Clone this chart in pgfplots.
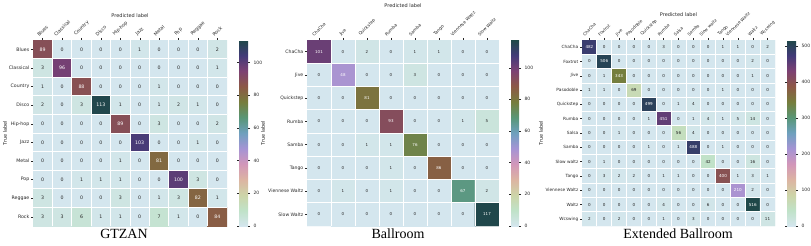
\documentclass[border=0pt]{standalone}
\usepackage{pgfplots}
\pgfplotsset{compat=1.18}
\usepackage{pgfplotstable}
\usepackage{graphicx}
\usepackage{fontspec}
\setmainfont{Liberation Serif}
\newfontfamily\dv{DejaVu Sans}
\newcommand\fs[1]{\dv\fontsize{#1}{#1}\selectfont}
\newcommand\rb[1]{\rotatebox{45}{#1}}

\pgfplotsset{/pgf/number format/assume math mode=true}
\pgfplotsset{colormap={chx}{rgb255=(212,230,238) rgb255=(192,226,200) rgb255=(205,212,168) rgb255=(220,180,162) rgb255=(210,150,185) rgb255=(165,148,212) rgb255=(110,160,190) rgb255=(88,150,118) rgb255=(118,125,60) rgb255=(140,88,70) rgb255=(125,65,115) rgb255=(65,58,120) rgb255=(30,72,72)}}

\pgfplotstableread[row sep=\\]{
x y z\\
0 0 89\\ 1 0 0\\ 2 0 0\\ 3 0 0\\ 4 0 0\\ 5 0 1\\ 6 0 0\\ 7 0 0\\ 8 0 0\\ 9 0 2\\
0 1 3\\ 1 1 96\\ 2 1 0\\ 3 1 0\\ 4 1 0\\ 5 1 0\\ 6 1 0\\ 7 1 0\\ 8 1 0\\ 9 1 1\\
0 2 1\\ 1 2 0\\ 2 2 88\\ 3 2 0\\ 4 2 0\\ 5 2 0\\ 6 2 1\\ 7 2 0\\ 8 2 0\\ 9 2 0\\
0 3 2\\ 1 3 0\\ 2 3 3\\ 3 3 113\\ 4 3 1\\ 5 3 0\\ 6 3 1\\ 7 3 2\\ 8 3 1\\ 9 3 0\\
0 4 0\\ 1 4 0\\ 2 4 0\\ 3 4 0\\ 4 4 89\\ 5 4 0\\ 6 4 3\\ 7 4 0\\ 8 4 0\\ 9 4 2\\
0 5 0\\ 1 5 0\\ 2 5 0\\ 3 5 0\\ 4 5 0\\ 5 5 103\\ 6 5 0\\ 7 5 0\\ 8 5 1\\ 9 5 0\\
0 6 0\\ 1 6 0\\ 2 6 0\\ 3 6 0\\ 4 6 1\\ 5 6 0\\ 6 6 81\\ 7 6 0\\ 8 6 0\\ 9 6 0\\
0 7 0\\ 1 7 0\\ 2 7 1\\ 3 7 1\\ 4 7 1\\ 5 7 0\\ 6 7 0\\ 7 7 100\\ 8 7 3\\ 9 7 0\\
0 8 3\\ 1 8 0\\ 2 8 0\\ 3 8 0\\ 4 8 3\\ 5 8 0\\ 6 8 1\\ 7 8 3\\ 8 8 82\\ 9 8 1\\
0 9 3\\ 1 9 3\\ 2 9 6\\ 3 9 1\\ 4 9 1\\ 5 9 0\\ 6 9 7\\ 7 9 1\\ 8 9 0\\ 9 9 84\\
}\tgtzan

\pgfplotstableread[row sep=\\]{
x y z\\
0 0 101\\ 1 0 0\\ 2 0 2\\ 3 0 0\\ 4 0 1\\ 5 0 1\\ 6 0 0\\ 7 0 0\\
0 1 0\\ 1 1 48\\ 2 1 0\\ 3 1 0\\ 4 1 3\\ 5 1 0\\ 6 1 0\\ 7 1 0\\
0 2 0\\ 1 2 0\\ 2 2 81\\ 3 2 0\\ 4 2 0\\ 5 2 0\\ 6 2 0\\ 7 2 0\\
0 3 0\\ 1 3 0\\ 2 3 0\\ 3 3 93\\ 4 3 0\\ 5 3 0\\ 6 3 1\\ 7 3 5\\
0 4 0\\ 1 4 0\\ 2 4 1\\ 3 4 1\\ 4 4 76\\ 5 4 0\\ 6 4 0\\ 7 4 0\\
0 5 0\\ 1 5 0\\ 2 5 0\\ 3 5 1\\ 4 5 0\\ 5 5 86\\ 6 5 0\\ 7 5 0\\
0 6 0\\ 1 6 1\\ 2 6 0\\ 3 6 1\\ 4 6 0\\ 5 6 0\\ 6 6 67\\ 7 6 2\\
0 7 0\\ 1 7 0\\ 2 7 0\\ 3 7 0\\ 4 7 0\\ 5 7 0\\ 6 7 0\\ 7 7 117\\
}\tball

\pgfplotstableread[row sep=\\]{
x y z\\
0 0 482\\ 1 0 0\\ 2 0 0\\ 3 0 0\\ 4 0 0\\ 5 0 3\\ 6 0 0\\ 7 0 0\\ 8 0 0\\ 9 0 1\\ 10 0 1\\ 11 0 0\\ 12 0 2\\
0 1 0\\ 1 1 506\\ 2 1 0\\ 3 1 0\\ 4 1 0\\ 5 1 0\\ 6 1 0\\ 7 1 0\\ 8 1 0\\ 9 1 0\\ 10 1 0\\ 11 1 2\\ 12 1 0\\
0 2 0\\ 1 2 1\\ 2 2 343\\ 3 2 0\\ 4 2 0\\ 5 2 0\\ 6 2 0\\ 7 2 0\\ 8 2 0\\ 9 2 0\\ 10 2 0\\ 11 2 1\\ 12 2 0\\
0 3 1\\ 1 3 1\\ 2 3 0\\ 3 3 69\\ 4 3 0\\ 5 3 0\\ 6 3 0\\ 7 3 0\\ 8 3 0\\ 9 3 1\\ 10 3 0\\ 11 3 0\\ 12 3 0\\
0 4 0\\ 1 4 0\\ 2 4 0\\ 3 4 0\\ 4 4 499\\ 5 4 0\\ 6 4 1\\ 7 4 4\\ 8 4 0\\ 9 4 0\\ 10 4 0\\ 11 4 0\\ 12 4 0\\
0 5 0\\ 1 5 0\\ 2 5 0\\ 3 5 0\\ 4 5 1\\ 5 5 451\\ 6 5 0\\ 7 5 1\\ 8 5 4\\ 9 5 1\\ 10 5 5\\ 11 5 14\\ 12 5 0\\
0 6 0\\ 1 6 0\\ 2 6 1\\ 3 6 0\\ 4 6 0\\ 5 6 0\\ 6 6 56\\ 7 6 4\\ 8 6 0\\ 9 6 0\\ 10 6 0\\ 11 6 0\\ 12 6 0\\
0 7 0\\ 1 7 0\\ 2 7 0\\ 3 7 0\\ 4 7 1\\ 5 7 0\\ 6 7 1\\ 7 7 488\\ 8 7 0\\ 9 7 1\\ 10 7 0\\ 11 7 0\\ 12 7 0\\
0 8 0\\ 1 8 1\\ 2 8 0\\ 3 8 0\\ 4 8 0\\ 5 8 0\\ 6 8 0\\ 7 8 0\\ 8 8 42\\ 9 8 0\\ 10 8 0\\ 11 8 16\\ 12 8 0\\
0 9 0\\ 1 9 3\\ 2 9 2\\ 3 9 2\\ 4 9 0\\ 5 9 1\\ 6 9 1\\ 7 9 0\\ 8 9 0\\ 9 9 400\\ 10 9 1\\ 11 9 3\\ 12 9 1\\
0 10 0\\ 1 10 0\\ 2 10 0\\ 3 10 0\\ 4 10 0\\ 5 10 0\\ 6 10 0\\ 7 10 0\\ 8 10 0\\ 9 10 0\\ 10 10 210\\ 11 10 2\\ 12 10 0\\
0 11 0\\ 1 11 0\\ 2 11 0\\ 3 11 0\\ 4 11 0\\ 5 11 4\\ 6 11 0\\ 7 11 0\\ 8 11 6\\ 9 11 0\\ 10 11 0\\ 11 11 516\\ 12 11 0\\
0 12 2\\ 1 12 0\\ 2 12 2\\ 3 12 0\\ 4 12 0\\ 5 12 1\\ 6 12 0\\ 7 12 3\\ 8 12 0\\ 9 12 0\\ 10 12 0\\ 11 12 0\\ 12 12 11\\
}\textb

\pgfplotsset{cm/.style={
  scale only axis, enlargelimits=false, y dir=reverse,
  colormap name=chx, point meta min=0,
  axis line style={draw=none},
  tick align=outside, major tick length=2.2pt, minor tick length=0pt,
  tick style={color=black!85, line width=0.4pt},
  xtick pos=right, xticklabel pos=right, ytick pos=left, yticklabel pos=left,
  xminorgrids, yminorgrids, minor grid style={white, line width=0.8pt},
  axis on top,
  xticklabel style={anchor=south, inner sep=1pt, text=black!85},
  yticklabel style={inner sep=1.3pt, text=black!85},
  xlabel={Predicted label}, ylabel={True label},
  label style={font=\fs{5}, text=black!85},
  colorbar,
}}

\begin{document}
\begin{tikzpicture}
\useasboundingbox (0,0) rectangle (811pt,-246pt);

% ---------------- GTZAN
\begin{axis}[cm, at={(33pt,-40pt)}, anchor=north west, width=194pt, height=186pt,
  xmin=-0.5, xmax=9.5, ymin=-0.5, ymax=9.5,
  xtick={0,...,9}, ytick={0,...,9},
  minor xtick={0.5,1.5,...,8.5}, minor ytick={0.5,1.5,...,8.5},
  xticklabels={\rb{Blues},\rb{Classical},\rb{Country},\rb{Disco},\rb{Hip-hop},\rb{Jazz},\rb{Metal},\rb{Pop},\rb{Reggae},\rb{Rock}},
  yticklabels={Blues,Classical,Country,Disco,Hip-hop,Jazz,Metal,Pop,Reggae,Rock},
  xticklabel style={font=\fs{4.7}}, yticklabel style={font=\fs{4.7}},
  point meta max=113.7,
  xlabel style={at={(axis description cs:0.5,1)}, anchor=center, yshift=24pt},
  ylabel style={at={(axis description cs:-0.144,0.5)}, anchor=center},
  colorbar style={at={(parent axis.north east)}, anchor=north west, xshift=3.5pt,
    width=9pt, height=186pt, scale only axis,
    ytick={0,20,40,60,80,100},
    yticklabel style={font=\fs{4.5}, text=black!85},
    /pgf/number format/assume math mode=true,
    tick align=outside, major tick length=2pt,
    tick style={color=black!85, line width=0.4pt},
    axis line style={draw=none}},
]
\addplot[matrix plot*, mesh/cols=10, point meta=explicit] table[meta=z]{\tgtzan};
\addplot[draw=none, mark=none, point meta=explicit,
  visualization depends on={\thisrow{z}\as\zv},
  nodes near coords={\ifdim\zv pt>40pt \color{white}\fi\pgfmathprintnumber[assume math mode=true]{\zv}},
  nodes near coords align=center,
  every node near coord/.append style={font=\fs{4.7}, inner sep=0pt, text=black!85}]
  table[meta=z]{\tgtzan};
\end{axis}

% ---------------- Ballroom
\begin{axis}[cm, at={(307pt,-40pt)}, anchor=north west, width=192pt, height=186pt,
  xmin=-0.5, xmax=7.5, ymin=-0.5, ymax=7.5,
  xtick={0,...,7}, ytick={0,...,7},
  minor xtick={0.5,1.5,...,6.5}, minor ytick={0.5,1.5,...,6.5},
  xticklabels={\rb{ChaCha},\rb{Jive},\rb{Quickstep},\rb{Rumba},\rb{Samba},\rb{Tango},\rb{Viennese Waltz},\rb{Slow Waltz}},
  yticklabels={ChaCha,Jive,Quickstep,Rumba,Samba,Tango,Viennese Waltz,Slow Waltz},
  xticklabel style={font=\fs{4.3}}, yticklabel style={font=\fs{4.6}},
  point meta max=117.5,
  xlabel style={at={(axis description cs:0.5,1)}, anchor=center, yshift=34pt},
  ylabel style={at={(axis description cs:-0.229,0.5)}, anchor=center},
  colorbar style={at={(parent axis.north east)}, anchor=north west, xshift=3.5pt,
    width=8pt, height=186pt, scale only axis,
    ytick={0,20,40,60,80,100},
    yticklabel style={font=\fs{4.5}, text=black!85},
    /pgf/number format/assume math mode=true,
    tick align=outside, major tick length=2pt,
    tick style={color=black!85, line width=0.4pt},
    axis line style={draw=none}},
]
\addplot[matrix plot*, mesh/cols=8, point meta=explicit] table[meta=z]{\tball};
\addplot[draw=none, mark=none, point meta=explicit,
  visualization depends on={\thisrow{z}\as\zv},
  nodes near coords={\ifdim\zv pt>40pt \color{white}\fi\pgfmathprintnumber[assume math mode=true]{\zv}},
  nodes near coords align=center,
  every node near coord/.append style={font=\fs{4}, inner sep=0pt, text=black!85}]
  table[meta=z]{\tball};
\end{axis}

% ---------------- Extended Ballroom
\begin{axis}[cm, at={(582pt,-40pt)}, anchor=north west, width=193pt, height=186pt,
  xmin=-0.5, xmax=12.5, ymin=-0.5, ymax=12.5,
  xtick={0,...,12}, ytick={0,...,12},
  minor xtick={0.5,1.5,...,11.5}, minor ytick={0.5,1.5,...,11.5},
  xticklabels={\rb{ChaCha},\rb{Foxtrot},\rb{Jive},\rb{Pasodoble},\rb{Quickstep},\rb{Rumba},\rb{Salsa},\rb{Samba},\rb{Slow waltz},\rb{Tango},\rb{Viennese Waltz},\rb{Waltz},\rb{Wcswing}},
  yticklabels={ChaCha,Foxtrot,Jive,Pasodoble,Quickstep,Rumba,Salsa,Samba,Slow waltz,Tango,Viennese Waltz,Waltz,Wcswing},
  xticklabel style={font=\fs{4.2}}, yticklabel style={font=\fs{4.3}},
  point meta max=517,
  xlabel style={at={(axis description cs:0.5,1)}, anchor=center, yshift=25pt},
  ylabel style={at={(axis description cs:-0.212,0.5)}, anchor=center},
  colorbar style={at={(parent axis.north east)}, anchor=north west, xshift=3.5pt,
    width=9pt, height=186pt, scale only axis,
    ytick={0,100,200,300,400,500},
    yticklabel style={font=\fs{4.5}, text=black!85},
    /pgf/number format/assume math mode=true,
    tick align=outside, major tick length=2pt,
    tick style={color=black!85, line width=0.4pt},
    axis line style={draw=none}},
]
\addplot[matrix plot*, mesh/cols=13, point meta=explicit] table[meta=z]{\textb};
\addplot[draw=none, mark=none, point meta=explicit,
  visualization depends on={\thisrow{z}\as\zv},
  nodes near coords={\ifdim\zv pt>150pt \color{white}\fi\pgfmathprintnumber[assume math mode=true]{\zv}},
  nodes near coords align=center,
  every node near coord/.append style={font=\fs{4.1}, inner sep=0pt, text=black!85}]
  table[meta=z]{\textb};
\end{axis}

\node[font=\fontsize{14}{14}\selectfont, anchor=base] at (124pt,-238pt) {GTZAN};
\node[font=\fontsize{14}{14}\selectfont, anchor=base] at (398pt,-238pt) {Ballroom};
\node[font=\fontsize{14}{14}\selectfont, anchor=base] at (678pt,-238pt) {Extended Ballroom};
\end{tikzpicture}
\end{document}
